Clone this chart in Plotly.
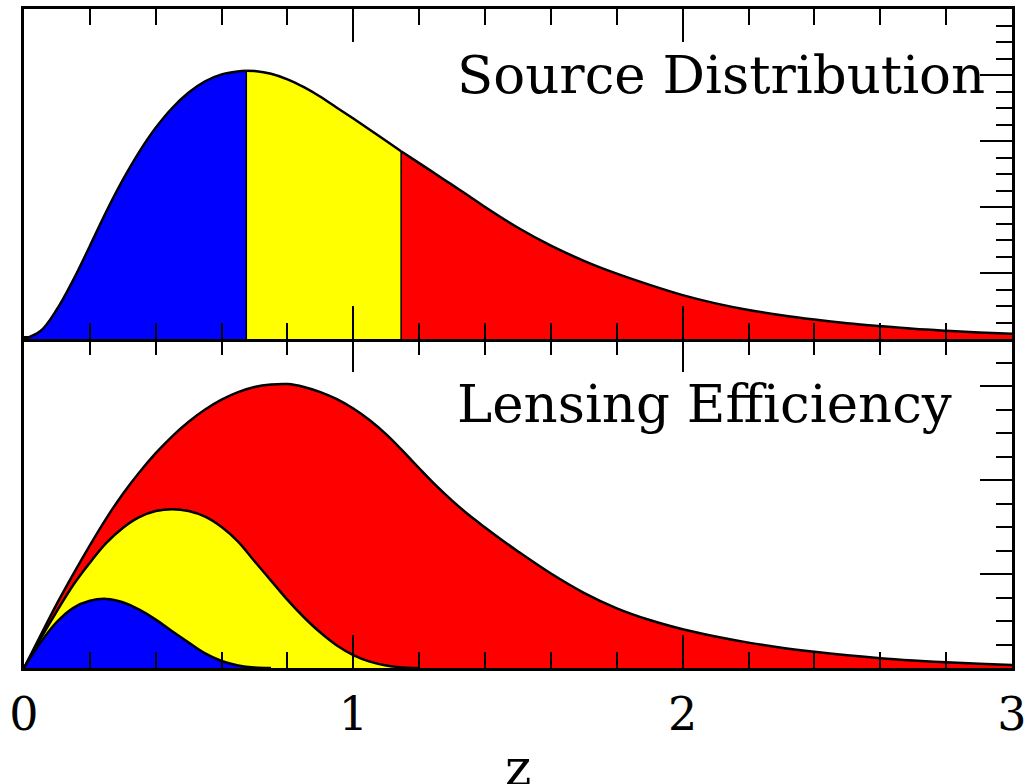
import plotly.graph_objects as go

# Source redshift distribution n(z), split into three redshift bins
src_z = [0.00, 0.05, 0.10, 0.15, 0.20, 0.25, 0.30, 0.35, 0.40, 0.45, 0.50, 0.55,
         0.60, 0.65, 0.675, 0.70, 0.75, 0.80, 0.85, 0.90, 0.95, 1.00, 1.05, 1.10,
         1.145, 1.20, 1.25, 1.30, 1.35, 1.40, 1.50, 1.60, 1.70, 1.80, 1.90, 2.00,
         2.10, 2.20, 2.30, 2.40, 2.50, 2.60, 2.70, 2.80, 2.90, 3.00]
src_n = [0.000, 0.024, 0.090, 0.180, 0.282, 0.386, 0.482, 0.567, 0.640, 0.700, 0.747, 0.781,
         0.802, 0.811, 0.813, 0.812, 0.804, 0.787, 0.763, 0.734, 0.701, 0.668, 0.634, 0.600,
         0.569, 0.533, 0.500, 0.467, 0.434, 0.400, 0.337, 0.283, 0.237, 0.198, 0.164, 0.133,
         0.108, 0.088, 0.072, 0.059, 0.048, 0.039, 0.031, 0.025, 0.020, 0.016]
bin_edges = [0.0, 0.675, 1.145, 3.0]
bin_colors = ["#0000ff", "#ffff00", "#ff0000"]

# Lensing efficiency of each bin
lens_z = [0.00, 0.05, 0.10, 0.15, 0.20, 0.25, 0.30, 0.35, 0.40, 0.45, 0.50, 0.55,
          0.60, 0.65, 0.70, 0.75, 0.80, 0.85, 0.90, 0.95, 1.00, 1.05, 1.10, 1.15,
          1.20, 1.25, 1.30, 1.35, 1.40, 1.45, 1.50, 1.60, 1.70, 1.80, 1.90, 2.00,
          2.10, 2.20, 2.30, 2.40, 2.50, 2.60, 2.70, 2.80, 2.90, 3.00]
lens_high = [0.000, 0.345, 0.685, 1.002, 1.305, 1.592, 1.852, 2.080, 2.285, 2.465, 2.620, 2.750,
             2.855, 2.935, 2.990, 3.015, 3.020, 2.990, 2.935, 2.860, 2.760, 2.635, 2.485, 2.310,
             2.125, 1.945, 1.780, 1.630, 1.495, 1.365, 1.240, 1.005, 0.800, 0.635, 0.510, 0.412,
             0.335, 0.270, 0.216, 0.172, 0.135, 0.104, 0.080, 0.060, 0.044, 0.031]
lens_mid = [0.000, 0.310, 0.605, 0.885, 1.120, 1.330, 1.490, 1.605, 1.670, 1.690, 1.670, 1.610,
            1.500, 1.345, 1.135, 0.930, 0.725, 0.540, 0.377, 0.240, 0.138, 0.068, 0.027, 0.006,
            0.000]
lens_low = [0.000, 0.270, 0.490, 0.640, 0.715, 0.735, 0.700, 0.620, 0.515, 0.390, 0.270, 0.155,
            0.074, 0.027, 0.005, 0.000]

x_ticks = [0, 1, 2, 3]
x_tick_text = ["0", "1", "2", "3"]

FONT = "DejaVu Serif"
split = 329 / 659  # bottom-panel fraction of the plotting height
curve = dict(color="black", width=2.5, shape="spline", smoothing=1.0)

fig = go.Figure()

# --- top panel: source distribution, filled per bin ---
for i, col in enumerate(bin_colors):
    lo, hi = bin_edges[i], bin_edges[i + 1]
    xs = [z for z in src_z if lo <= z <= hi]
    ys = [n for z, n in zip(src_z, src_n) if lo <= z <= hi]
    fig.add_trace(go.Scatter(x=xs, y=ys, mode="lines", fill="tozeroy", fillcolor=col,
                             line=curve, xaxis="x2", yaxis="y", hoverinfo="skip"))

# bin boundaries
for edge in bin_edges[1:-1]:
    n_edge = src_n[src_z.index(edge)]
    fig.add_trace(go.Scatter(x=[edge, edge], y=[0, n_edge], mode="lines",
                             line=dict(color="black", width=1.5),
                             xaxis="x2", yaxis="y", hoverinfo="skip"))

# --- bottom panel: lensing efficiency ---
for vals, col in [(lens_high, bin_colors[2]), (lens_mid, bin_colors[1]), (lens_low, bin_colors[0])]:
    fig.add_trace(go.Scatter(x=lens_z[:len(vals)], y=vals, mode="lines", fill="tozeroy",
                             fillcolor=col, line=curve,
                             xaxis="x", yaxis="y2", hoverinfo="skip"))

tick_common = dict(ticks="inside", tickcolor="black", tickwidth=2, showgrid=False,
                   zeroline=False, showline=True, linecolor="black", linewidth=3,
                   automargin=False)

fig.update_layout(
    width=1025, height=784,
    margin=dict(l=24, r=13, t=9, b=116),
    paper_bgcolor="white", plot_bgcolor="white",
    showlegend=False,
    xaxis=dict(domain=[0, 1], anchor="y2", range=[0, 3], mirror="ticks",
               tickvals=x_ticks, ticktext=x_tick_text, ticklen=33,
               minor=dict(dtick=0.2, ticklen=16, tickwidth=2, tickcolor="black", ticks="inside"),
               tickfont=dict(family=FONT, size=46, color="black"), ticklabelstandoff=4,
               ticklabeloverflow="allow", **tick_common),
    xaxis2=dict(domain=[0, 1], anchor="y", matches="x", range=[0, 3], mirror="ticks",
                tickvals=x_ticks, ticklen=33, showticklabels=False,
                minor=dict(dtick=0.2, ticklen=16, tickwidth=2, tickcolor="black", ticks="inside"),
                **tick_common),
    yaxis=dict(domain=[split, 1], anchor="x2", range=[0, 1], side="right", mirror=True,
               dtick=0.2, ticklen=32, showticklabels=False,
               minor=dict(dtick=0.05, ticklen=16, tickwidth=2, tickcolor="black", ticks="inside"),
               **tick_common),
    yaxis2=dict(domain=[0, split], anchor="x", range=[0, 3.5], side="right", mirror=True,
                dtick=1, ticklen=32, showticklabels=False,
                minor=dict(dtick=0.25, ticklen=16, tickwidth=2, tickcolor="black", ticks="inside"),
                **tick_common),
)

fig.add_annotation(text="Source Distribution", x=1.309, xref="x", xanchor="left",
                   y=0.901, yref="paper", yanchor="middle", showarrow=False,
                   font=dict(family=FONT, size=53, color="black"))
fig.add_annotation(text="Lensing Efficiency", x=1.309, xref="x", xanchor="left",
                   y=0.401, yref="paper", yanchor="middle", showarrow=False,
                   font=dict(family=FONT, size=53, color="black"))
fig.add_annotation(text="z", x=1.5, xref="x", xanchor="center",
                   y=-0.104, yref="paper", yanchor="top", showarrow=False,
                   font=dict(family=FONT, size=50, color="black"))

fig.write_html("out.html")
